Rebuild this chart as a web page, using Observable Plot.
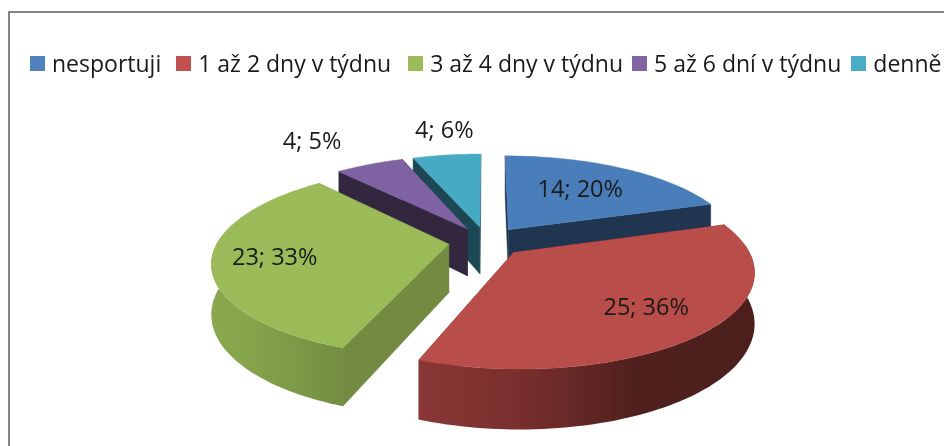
<!DOCTYPE html>
<html>
<head>
<meta charset="utf-8">
<script src="https://cdn.jsdelivr.net/npm/d3@7"></script>
<script src="https://cdn.jsdelivr.net/npm/@observablehq/plot@0.6"></script>
<style>
  html, body { margin: 0; padding: 0; background: #fff; overflow: hidden; }
  #wrap { position: relative; width: 944px; height: 446px; overflow: hidden; font-family: "Open Sans", sans-serif; color: #1a1a1a; filter: blur(0.4px); }
  #frame { position: absolute; left: 8px; top: 11px; right: -10px; bottom: -10px; border-left: 2px solid #868686; border-top: 2px solid #868686; }
  #legend { position: absolute; left: 30px; top: 47px; display: flex; align-items: center; font-size: 23px; white-space: nowrap; }
  #legend .sw { width: 15px; height: 15px; margin-right: 7px; flex: none; }
  #legend .it { display: flex; align-items: center; }
  svg { position: absolute; left: 0; top: 0; background: transparent !important; }
</style>
</head>
<body>
<div id="wrap"><div id="frame"></div><div id="legend"></div></div>
<script>
// Data
const categories = ["nesportuji", "1 až 2 dny v týdnu", "3 až 4 dny v týdnu", "5 až 6 dní v týdnu", "denně"];
const counts = [14, 25, 23, 4, 4];
const percents = [20, 36, 33, 5, 6];

// Colours
const legendColors = ["#4F81BD", "#C0504D", "#9BBB59", "#8064A2", "#4BACC6"];
const topColors = ["#4A7EBB", "#B94D4A", "#9BBB59", "#7E62A1", "#46AAC5"];
const wallColors = ["#1F3550", "#7A2F2D", "#728B40", "#33263F", "#1C4754"];
const rimStops = [null, ["#8A3736", "#752E2C", "#4F201E", "#4C1F1D"], ["#8AA94E", "#84A24A", "#7C9947", "#738C42"], null, null];

// Layout
const legendGaps = [15, 17, 9, 10, 0];
const perspective = 0.18, explode = 0.165, thickness = 0.53;
const labelReach = [0.62, 0.72, 0.74, 1.5, 1.42];
const labelTurn = [-1, 0, -1, -4, 2];

// 3D pie model: tilted disc seen in perspective
const rad = (d) => d * Math.PI / 180;
const proj = (X, Y, z = 0) => { const w = 1 - perspective * Y; return {x: X / w, y: (Y + z) / w}; };

const total = d3.sum(counts);
let acc = 0;
const slices = counts.map((c, i) => {
  const a0 = acc / total * 360; acc += c; const a1 = acc / total * 360; const mid = (a0 + a1) / 2;
  return {i, a0, a1, mid, ex: explode * Math.sin(rad(mid)), ey: -explode * Math.cos(rad(mid))};
});
const pt = (s, a, z = 0, r = 1) => proj(s.ex + r * Math.sin(rad(a)), s.ey - r * Math.cos(rad(a)), z);
const arc = (a0, a1) => { const n = Math.max(2, Math.ceil((a1 - a0) / 1.5)); return d3.range(n + 1).map((k) => a0 + (a1 - a0) * k / n); };

const marks = [];
const defs = () => {
  const ns = "http://www.w3.org/2000/svg";
  const d = document.createElementNS(ns, "defs");
  rimStops.forEach((stops, i) => {
    if (!stops) return;
    const g = document.createElementNS(ns, "linearGradient");
    g.setAttribute("id", "rim" + i);
    stops.forEach((c, k) => {
      const st = document.createElementNS(ns, "stop");
      st.setAttribute("offset", k === 2 && i === 1 ? 0.65 : k / (stops.length - 1));
      st.setAttribute("stop-color", c);
      g.appendChild(st);
    });
    d.appendChild(g);
  });
  return d;
};
marks.push(defs);

const poly = (pts, fill) => Plot.line(pts, {x: "x", y: "y", fill, stroke: fill.startsWith("url") ? "none" : fill, strokeWidth: 0.4, curve: "linear"});

// painter's order: back slices first
[4, 3, 0, 2, 1].forEach((idx) => {
  const s = slices[idx];
  const apex = proj(s.ex, s.ey), apexLow = proj(s.ex, s.ey, thickness);
  for (const a of [s.a0, s.a1]) {
    marks.push(poly([apex, pt(s, a), pt(s, a, thickness), apexLow, apex], wallColors[idx]));
  }
  const r0 = Math.max(s.a0, 85), r1 = Math.min(s.a1, 275);
  if (r1 > r0) {
    const as = arc(r0, r1);
    const fill = rimStops[idx] ? `url(#rim${idx})` : wallColors[idx];
    marks.push(poly([...as.map((a) => pt(s, a)), ...as.slice().reverse().map((a) => pt(s, a, thickness))], fill));
  }
  const face = [apex, ...arc(s.a0, s.a1).map((a) => pt(s, a)), apex];
  marks.push(poly(face, topColors[idx]));
});

const labels = slices.map((s) => ({...pt(s, s.mid + labelTurn[s.i], 0, labelReach[s.i]), text: `${counts[s.i]}; ${percents[s.i]}%`}));
marks.push(Plot.text(labels, {x: "x", y: "y", text: "text", fontSize: 23.5, fill: "#1a1a1a", textAnchor: "middle"}));

const W = 944, H = 446, cx = 486, cy = 241, A = 231, B = 91;
const chart = Plot.plot({
  width: W, height: H,
  margin: 0, marginTop: 0, marginRight: 0, marginBottom: 0, marginLeft: 0,
  x: {domain: [-cx / A, (W - cx) / A], range: [0, W], axis: null},
  y: {domain: [-cy / B, (H - cy) / B], range: [0, H], axis: null},
  style: {fontFamily: "'Open Sans', sans-serif", background: "transparent"},
  marks
});
document.getElementById("wrap").appendChild(chart);

const legend = document.getElementById("legend");
categories.forEach((c, i) => {
  const it = document.createElement("div"); it.className = "it"; it.style.marginRight = legendGaps[i] + "px";
  const sw = document.createElement("span"); sw.className = "sw"; sw.style.background = legendColors[i];
  const t = document.createElement("span"); t.textContent = c;
  it.append(sw, t); legend.appendChild(it);
});
</script>
</body>
</html>
